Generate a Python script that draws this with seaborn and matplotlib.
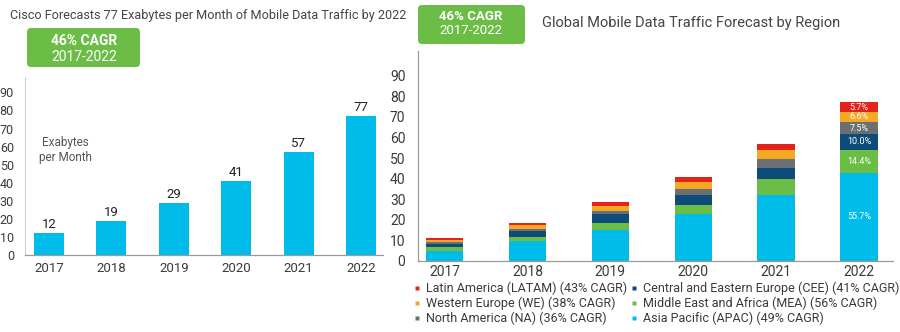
import numpy as np
import pandas as pd
import matplotlib
matplotlib.use("Agg")
import matplotlib.pyplot as plt
from matplotlib.patches import FancyBboxPatch
from matplotlib.lines import Line2D
import seaborn as sns

# ---- data ----
years = ["2017", "2018", "2019", "2020", "2021", "2022"]
totals = [12, 19, 29, 41, 57, 77]

apac = [4.8, 9.7, 15.0, 22.7, 31.9, 42.9]
mea = [1.9, 2.1, 3.6, 4.5, 7.7, 11.1]
cee = [1.8, 2.8, 4.1, 4.7, 5.7, 7.7]
na = [0.7, 0.8, 1.6, 3.2, 4.1, 5.8]
we = [1.2, 2.1, 2.4, 3.4, 4.3, 5.1]
latam = [0.8, 1.1, 1.9, 2.4, 2.9, 4.4]

shares_2022 = ["55.7%", "14.4%", "10.0%", "7.5%", "6.6%", "5.7%"]

region_labels = [
    "Asia Pacific (APAC) (49% CAGR)",
    "Middle East and Africa (MEA) (56% CAGR)",
    "Central and Eastern Europe (CEE) (41% CAGR)",
    "North America (NA) (36% CAGR)",
    "Western Europe (WE) (38% CAGR)",
    "Latin America (LATAM) (43% CAGR)",
]
yticks = [0, 10, 20, 30, 40, 50, 60, 70, 80, 90]

# ---- style ----
sns.set_theme(style="white")
plt.rcParams["font.family"] = ["Roboto", "DejaVu Sans"]
TXT = "#3a3a3a"
BLUE = "#00bceb"
colors = [BLUE, "#6cbd45", "#0d4c78", "#6b6f73", "#f7a823", "#e3241b"]
GREEN_BOX = "#6cbd45"

fig = plt.figure(figsize=(9.0, 3.32), dpi=100)
fig.patch.set_facecolor("white")

# ---------------- left chart ----------------
axL = fig.add_axes([25 / 900, (332 - 255) / 332, 358 / 900, 178 / 332])
sns.barplot(x=years, y=totals, color=BLUE, saturation=1, width=0.48,
            edgecolor="none", ax=axL)
axL.set_xlim(-0.385, 5.35)
axL.set_ylim(0, 98.5)
axL.set_yticks(yticks)
axL.set_xlabel("")
axL.set_ylabel("")
for s in ["top", "right"]:
    axL.spines[s].set_visible(False)
axL.spines["left"].set_color("#cfcfcf")
axL.spines["bottom"].set_color("#9a9a9a")
axL.spines["left"].set_linewidth(0.8)
axL.spines["bottom"].set_linewidth(0.9)
axL.tick_params(axis="y", length=0, pad=8, labelsize=9, labelcolor=TXT)
axL.tick_params(axis="x", length=0, pad=5, labelsize=9.5, labelcolor=TXT)
for i, v in enumerate(totals):
    axL.annotate(str(v), (i, v), xytext=(0, 1.5), textcoords="offset points",
                 ha="center", va="bottom", fontsize=9.5, color="#222222")
axL.text(40 / 358, (255 - 150) / 178, "Exabytes\nper Month",
         transform=axL.transAxes, ha="center", va="center", fontsize=8.5,
         color="#555555", linespacing=1.25)

# ---------------- right chart ----------------
axR = fig.add_axes([418 / 900, (332 - 261) / 332, 475 / 900, 210 / 332])
series = [apac, mea, cee, na, we, latam]
cum = np.cumsum(np.array(series), axis=0)
for i in reversed(range(len(series))):
    sns.barplot(x=years, y=cum[i], color=colors[i], saturation=1, width=0.45,
                edgecolor="none", ax=axR)
axR.set_xlim(-0.32, 5.41)
axR.set_ylim(0, 102)
axR.set_yticks(yticks)
axR.set_xlabel("")
axR.set_ylabel("")
for s in ["top", "right"]:
    axR.spines[s].set_visible(False)
axR.spines["left"].set_color("#9a9a9a")
axR.spines["bottom"].set_color("#9a9a9a")
axR.spines["left"].set_linewidth(0.9)
axR.spines["bottom"].set_linewidth(0.9)
axR.tick_params(axis="y", length=0, pad=9, labelsize=10, labelcolor=TXT)
axR.tick_params(axis="x", length=0, pad=3, labelsize=10, labelcolor=TXT)

last = len(years) - 1
for i in range(len(series)):
    lo = cum[i - 1][last] if i > 0 else 0
    hi = cum[i][last]
    axR.text(last, (lo + hi) / 2, shares_2022[i], ha="center", va="center",
             fontsize=6.5, color="white")

# legend rows: LATAM | CEE ; WE | MEA ; NA | APAC  (ncol=2 fills by column)
order = [5, 4, 3, 2, 1, 0]
handles = [Line2D([0], [0], marker="s", linestyle="none", markersize=3,
                  markerfacecolor=colors[k], markeredgecolor="none")
           for k in order]
labels = [region_labels[k] for k in order]
fig.legend(handles, labels, ncol=2, loc="upper left",
           bbox_to_anchor=(413 / 900, 1 - 282 / 332), frameon=False,
           fontsize=9.0, handlelength=0.6, handletextpad=0.4,
           columnspacing=0.3, labelspacing=0.13, borderpad=0.0,
           borderaxespad=0.0, labelcolor=TXT)

# ---------------- titles and boxes ----------------
fig.text(10 / 900, 1 - 16 / 332,
         "Cisco Forecasts 77 Exabytes per Month of Mobile Data Traffic by 2022",
         ha="left", va="center", fontsize=9.1, color="#444444")
fig.text(542 / 900, 1 - 23 / 332,
         "Global Mobile Data Traffic Forecast by Region",
         ha="left", va="center", fontsize=10.5, color="#444444")


def green_box(x0, y0, w, h):
    # pixel coordinates from top-left
    bb = FancyBboxPatch((x0 / 100, (332 - y0 - h) / 100), w / 100, h / 100,
                        boxstyle="round,pad=0,rounding_size=0.04",
                        transform=fig.dpi_scale_trans, facecolor=GREEN_BOX,
                        edgecolor="none", zorder=5)
    fig.patches.append(bb)


green_box(27, 28, 113, 39)
green_box(418, 5, 107, 39)
fig.text(84 / 900, 1 - 41 / 332, "46% CAGR", ha="center", va="center",
         fontsize=10, fontweight="bold", color="white", zorder=6)
fig.text(84 / 900, 1 - 57 / 332, "2017-2022", ha="center", va="center",
         fontsize=10, color="white", zorder=6)
fig.text(471 / 900, 1 - 16 / 332, "46% CAGR", ha="center", va="center",
         fontsize=9.5, fontweight="bold", color="white", zorder=6)
fig.text(471 / 900, 1 - 31 / 332, "2017-2022", ha="center", va="center",
         fontsize=9.5, color="white", zorder=6)

fig.savefig("out.png", dpi=100, facecolor="white")
